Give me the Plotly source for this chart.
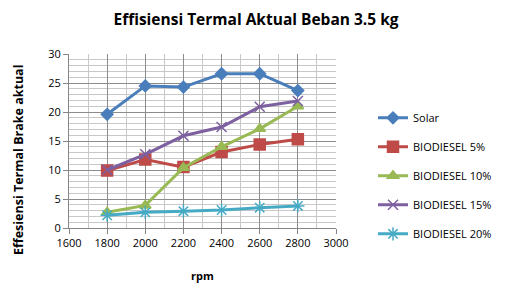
import plotly.graph_objects as go

rpm = [1800, 2000, 2200, 2400, 2600, 2800]
solar = [19.6, 24.5, 24.3, 26.6, 26.6, 23.7]
bio5 = [9.9, 11.8, 10.5, 13.1, 14.4, 15.3]
bio10 = [2.7, 3.9, 10.4, 14.0, 17.1, 21.0]
bio15 = [10.0, 12.7, 15.9, 17.4, 20.9, 21.9]
bio20 = [2.2, 2.7, 2.9, 3.1, 3.5, 3.8]

names = ["Solar", "BIODIESEL 5%", "BIODIESEL 10%", "BIODIESEL 15%", "BIODIESEL 20%"]
series = [solar, bio5, bio10, bio15, bio20]
colors = ["#4A7EBB", "#BE4B48", "#98B954", "#7D60A0", "#46AAC5"]
symbols = ["diamond", "square", "triangle-up", "x-thin-open", "asterisk-open"]
sizes = [9, 11, 10, 10, 11]

fig = go.Figure()
for i, (n, s) in enumerate(zip(names, series)):
    fig.add_trace(go.Scatter(
        x=rpm, y=s, name=n, mode="lines+markers",
        legendgroup=str(i),
        line=dict(color=colors[i], width=3),
        marker=dict(symbol=symbols[i], size=sizes[i], color=colors[i],
                    line=dict(color=colors[i], width=1.5)),
    ))

# page has an 8px body margin; layout offsets compensate for it
L, T, R, B = 61, 46, 328, 220
W, H = 515, 296
font = "Open Sans, sans-serif"
fig.update_layout(
    width=W, height=H,
    margin=dict(l=L, r=W - R, t=T, b=H - B, autoexpand=False),
    paper_bgcolor="white", plot_bgcolor="white",
    font=dict(family=font, size=11, color="#000000"),
    title=dict(text="<b>Effisiensi Termal Aktual Beban 3.5 kg</b>",
               x=248 / W, xanchor="center", y=1 - 12 / H, yanchor="middle",
               font=dict(size=15.5)),
    legend=dict(x=(365 - L) / (R - L), xref="paper", y=0.30, yanchor="middle", xanchor="left",
                tracegroupgap=10, traceorder="grouped",
                font=dict(size=11), itemwidth=30, bgcolor="rgba(0,0,0,0)"),
    showlegend=True,
    annotations=[dict(text="<b>Effesiensi Termal Brake aktual</b>",
                      xref="paper", yref="paper",
                      x=(10 - L) / (R - L), y=(B - 152) / (B - T),
                      xanchor="center", yanchor="middle", textangle=-90,
                      showarrow=False, font=dict(size=12.5))],
)
fig.update_xaxes(
    range=[1600, 3000], dtick=200, tick0=1600,
    showgrid=True, gridcolor="#8c8c8c", gridwidth=1,
    minor=dict(dtick=100, showgrid=True, gridcolor="#c8c8c8", gridwidth=1),
    showline=True, linecolor="#868686", linewidth=1,
    ticks="outside", ticklen=5, tickcolor="#868686",
    zeroline=False, mirror=False, automargin=False,
    title=dict(text="<b>rpm</b>", font=dict(size=11), standoff=23),
    tickfont=dict(size=11),
)
fig.update_yaxes(
    range=[0, 30], dtick=5,
    showgrid=True, gridcolor="#8c8c8c", gridwidth=1,
    minor=dict(dtick=1, showgrid=True, gridcolor="#c8c8c8", gridwidth=1),
    showline=True, linecolor="#868686", linewidth=1,
    ticks="outside", ticklen=5, tickcolor="#868686",
    zeroline=False, automargin=False,
    tickfont=dict(size=11),
)
fig.write_html("out.html")
